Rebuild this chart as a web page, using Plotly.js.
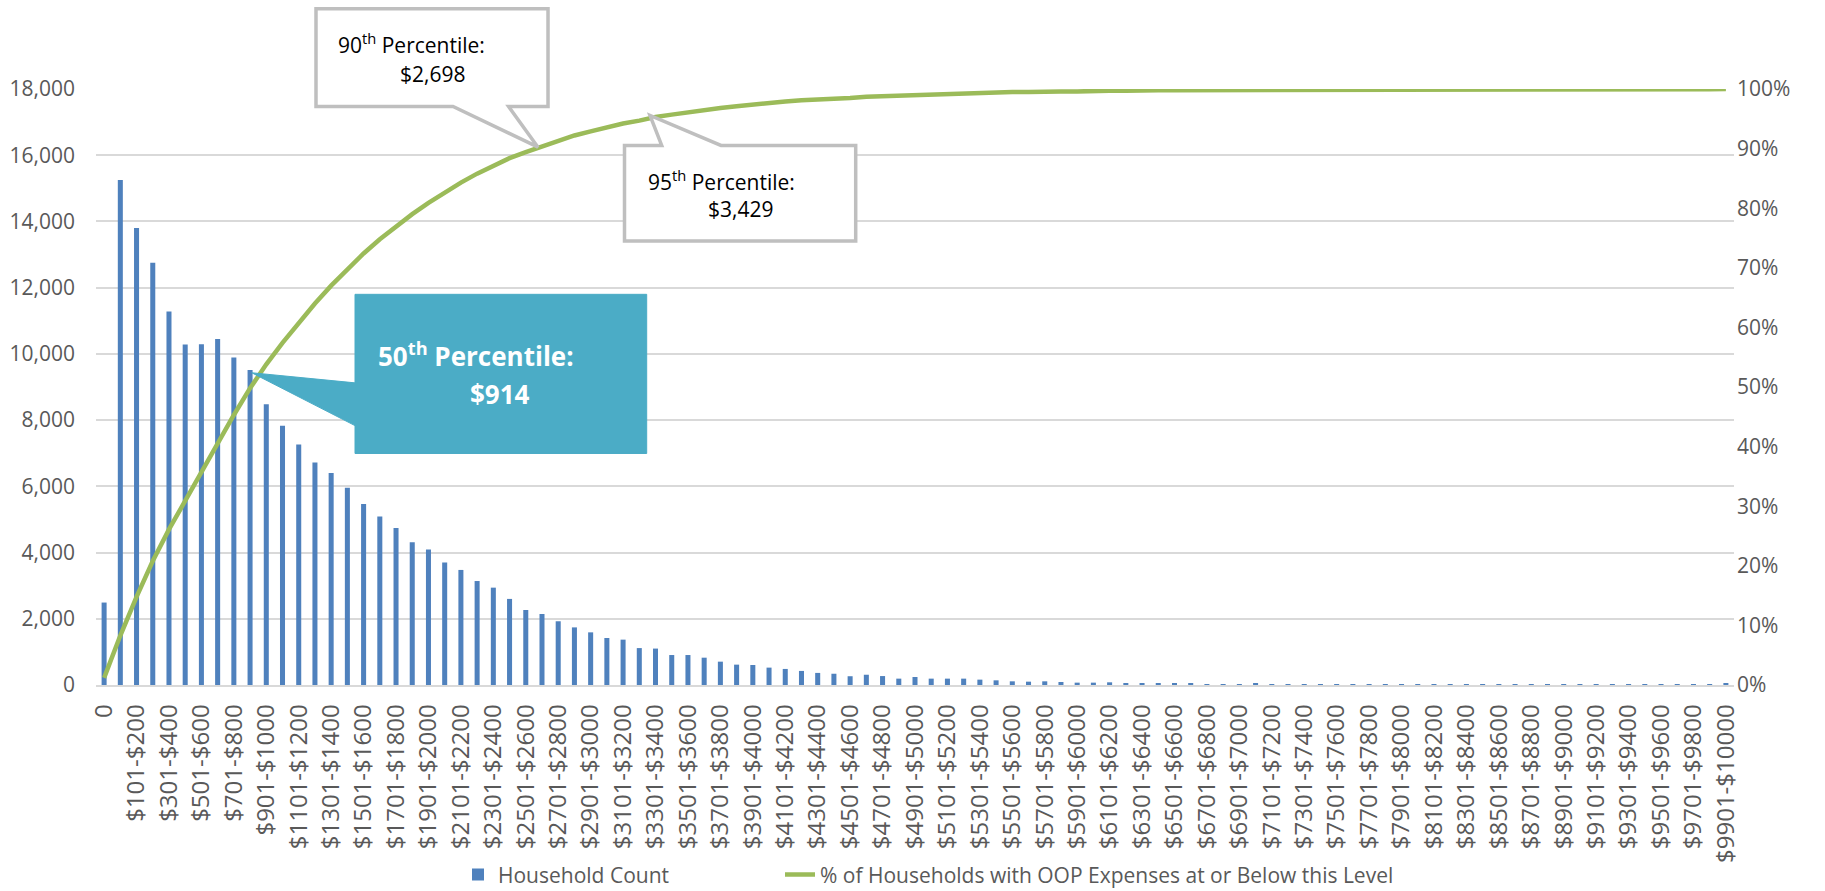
<!DOCTYPE html>
<html>
<head>
<meta charset="utf-8">
<script src="https://cdn.plot.ly/plotly-3.0.1.min.js"></script>
<style>html,body{margin:0;padding:0;background:#fff;}#chart{width:1825px;height:891px;}</style>
</head>
<body>
<div id="chart"></div>
<script>
// ---------- DATA ----------
const categories = [
 "0","$1-$100","$101-$200","$201-$300","$301-$400","$401-$500","$501-$600","$601-$700","$701-$800","$801-$900",
 "$901-$1000","$1001-$1100","$1101-$1200","$1201-$1300","$1301-$1400","$1401-$1500","$1501-$1600","$1601-$1700","$1701-$1800","$1801-$1900",
 "$1901-$2000","$2001-$2100","$2101-$2200","$2201-$2300","$2301-$2400","$2401-$2500","$2501-$2600","$2601-$2700","$2701-$2800","$2801-$2900",
 "$2901-$3000","$3001-$3100","$3101-$3200","$3201-$3300","$3301-$3400","$3401-$3500","$3501-$3600","$3601-$3700","$3701-$3800","$3801-$3900",
 "$3901-$4000","$4001-$4100","$4101-$4200","$4201-$4300","$4301-$4400","$4401-$4500","$4501-$4600","$4601-$4700","$4701-$4800","$4801-$4900",
 "$4901-$5000","$5001-$5100","$5101-$5200","$5201-$5300","$5301-$5400","$5401-$5500","$5501-$5600","$5601-$5700","$5701-$5800","$5801-$5900",
 "$5901-$6000","$6001-$6100","$6101-$6200","$6201-$6300","$6301-$6400","$6401-$6500","$6501-$6600","$6601-$6700","$6701-$6800","$6801-$6900",
 "$6901-$7000","$7001-$7100","$7101-$7200","$7201-$7300","$7301-$7400","$7401-$7500","$7501-$7600","$7601-$7700","$7701-$7800","$7801-$7900",
 "$7901-$8000","$8001-$8100","$8101-$8200","$8201-$8300","$8301-$8400","$8401-$8500","$8501-$8600","$8601-$8700","$8701-$8800","$8801-$8900",
 "$8901-$9000","$9001-$9100","$9101-$9200","$9201-$9300","$9301-$9400","$9401-$9500","$9501-$9600","$9601-$9700","$9701-$9800","$9801-$9900",
 "$9901-$10000"
];

const householdCount = [
 2490, 15250, 13800, 12750, 11280, 10280, 10290, 10450, 9890, 9510,
 8480, 7830, 7265, 6720, 6405, 5955, 5470, 5090, 4745, 4315,
 4090, 3700, 3475, 3140, 2940, 2600, 2265, 2145, 1925, 1740,
 1590, 1420, 1370, 1115, 1100, 905, 905, 825, 705, 615,
 605, 525, 485, 425, 365, 340, 265, 310, 270, 192,
 242, 192, 192, 192, 162, 141, 111, 101, 111, 91,
 71, 71, 81, 51, 51, 61, 40, 40, 30, 30,
 30, 40, 30, 20, 20, 15, 10, 10, 8, 8,
 6, 6, 5, 5, 4, 4, 3, 3, 3, 2,
 2, 2, 2, 1, 1, 1, 1, 1, 1, 1,
 60
];

const cumulativePct = [
 1.2, 8.3, 14.8, 20.8, 26.1, 30.9, 35.8, 40.7, 45.3, 49.8,
 53.8, 57.4, 60.8, 64.0, 67.0, 69.8, 72.4, 74.8, 77.0, 79.0,
 80.9, 82.7, 84.3, 85.8, 87.2, 88.4, 89.4, 90.4, 91.3, 92.2,
 92.9, 93.6, 94.2, 94.7, 95.3, 95.7, 96.1, 96.5, 96.8, 97.1,
 97.4, 97.6, 97.9, 98.1, 98.2, 98.4, 98.5, 98.7, 98.8, 98.9,
 99.0, 99.1, 99.2, 99.3, 99.35, 99.4, 99.5, 99.5, 99.6, 99.6,
 99.6, 99.7, 99.7, 99.7, 99.8, 99.8, 99.8, 99.8, 99.8, 99.9,
 99.9, 99.9, 99.9, 99.9, 99.9, 99.9, 99.9, 99.9, 99.9, 99.95,
 99.95, 99.95, 99.95, 99.96, 99.96, 99.96, 99.96, 99.97, 99.97, 99.97,
 99.97, 99.97, 99.97, 99.97, 99.97, 99.97, 99.97, 99.97, 99.97, 99.97,
 100
];

const barName = "Household Count";
const lineName = "% of Households with OOP Expenses at or Below this Level";
const tickLabels = categories.filter((c, i) => i % 2 === 0);

// ---------- LAYOUT HELPERS (pixel -> paper) ----------
const W = 1825, H = 891;
const L = 96, R = 1734, T = 88.5, B = 685;
const px = x => (x - L) / (R - L);
const py = y => (B - y) / (B - T);
const path = pts => 'M ' + pts.map(p => px(p[0]).toFixed(5) + ',' + py(p[1]).toFixed(5)).join(' L ') + ' Z';

const FONT = '"Open Sans", "DejaVu Sans", sans-serif';
const GREY = '#595959';

const traces = [
 {
  type: 'bar', name: barName, x: categories, y: householdCount,
  marker: {color: '#4F81BD'}, yaxis: 'y', legend: 'legend'
 },
 {
  type: 'scatter', mode: 'lines', name: lineName, x: categories, y: cumulativePct,
  line: {color: '#9BBB59', width: 4.5}, yaxis: 'y2', cliponaxis: false, legend: 'legend2'
 }
];

const legendFont = {family: FONT, size: 21, color: GREY};

const layout = {
 width: W, height: H,
 paper_bgcolor: '#ffffff', plot_bgcolor: '#ffffff',
 margin: {l: L, r: W - R, t: T, b: H - B, pad: 0, autoexpand: false},
 font: {family: FONT, color: GREY, size: 21},
 bargap: 0.69,
 showlegend: true,
 legend: {
  orientation: 'h', x: px(458), xanchor: 'left', y: py(875), yanchor: 'middle',
  font: legendFont, bgcolor: 'rgba(0,0,0,0)'
 },
 legend2: {
  orientation: 'h', x: px(780), xanchor: 'left', y: py(875), yanchor: 'middle',
  font: legendFont, bgcolor: 'rgba(0,0,0,0)'
 },
 xaxis: {
  type: 'category', range: [-0.5, categories.length - 0.5],
  tickmode: 'array', tickvals: tickLabels, ticktext: tickLabels,
  tickangle: -90, tickfont: {family: FONT, size: 24, color: GREY},
  showgrid: false, zeroline: false, showline: true, linecolor: '#D9D9D9', linewidth: 1.5,
  ticks: '', ticklabelstandoff: 8, fixedrange: true, automargin: false
 },
 yaxis: {
  range: [0, 18000], dtick: 2000, tickformat: ',d',
  gridcolor: '#D9D9D9', gridwidth: 1.5, zeroline: false, showline: false,
  tickfont: {family: FONT, size: 21, color: GREY}, ticks: '', ticklabelstandoff: 20, automargin: false
 },
 yaxis2: {
  overlaying: 'y', side: 'right', range: [0, 100], dtick: 10, ticksuffix: '%',
  showgrid: false, zeroline: false, showline: false,
  tickfont: {family: FONT, size: 21, color: GREY}, ticks: '', ticklabelstandoff: 2, automargin: false
 },
 shapes: [
  { type: 'path', xref: 'paper', yref: 'paper', layer: 'above',
    path: path([[316,8.3],[548,8.3],[548,106],[508.6,106],[538,146.7],[453,106],[316,106]]),
    fillcolor: '#ffffff', line: {color: '#BFBFBF', width: 3.5} },
  { type: 'path', xref: 'paper', yref: 'paper', layer: 'above',
    path: path([[624.5,145],[661.7,145],[650,115],[721,145],[855.7,145],[855.7,240.7],[624.5,240.7]]),
    fillcolor: '#ffffff', line: {color: '#BFBFBF', width: 3.5} },
  { type: 'path', xref: 'paper', yref: 'paper', layer: 'above',
    path: path([[355,294],[646.7,294],[646.7,453.3],[355,453.3],[355,425.4],[251.7,372.5],[355,382.6]]),
    fillcolor: '#4BACC6', line: {color: '#4BACC6', width: 1} }
 ],
 annotations: [
  {xref:'paper', yref:'paper', x: px(336), y: py(43), xanchor:'left', yanchor:'middle', showarrow:false,
   text:'90<sup>th</sup> Percentile:', font:{family: FONT, size: 21, color:'#000000'}},
  {xref:'paper', yref:'paper', x: px(398), y: py(73), xanchor:'left', yanchor:'middle', showarrow:false,
   text:'$2,698', font:{family: FONT, size: 21, color:'#000000'}},
  {xref:'paper', yref:'paper', x: px(646), y: py(180), xanchor:'left', yanchor:'middle', showarrow:false,
   text:'95<sup>th</sup> Percentile:', font:{family: FONT, size: 21, color:'#000000'}},
  {xref:'paper', yref:'paper', x: px(706), y: py(209), xanchor:'left', yanchor:'middle', showarrow:false,
   text:'$3,429', font:{family: FONT, size: 21, color:'#000000'}},
  {xref:'paper', yref:'paper', x: px(376), y: py(355), xanchor:'left', yanchor:'middle', showarrow:false,
   text:'<b>50<sup>th</sup> Percentile:</b>', font:{family: FONT, size: 26, color:'#ffffff'}},
  {xref:'paper', yref:'paper', x: px(468), y: py(394), xanchor:'left', yanchor:'middle', showarrow:false,
   text:'<b>$914</b>', font:{family: FONT, size: 26, color:'#ffffff'}}
 ]
};

Plotly.newPlot('chart', traces, layout, {displayModeBar: false});
</script>
</body>
</html>
